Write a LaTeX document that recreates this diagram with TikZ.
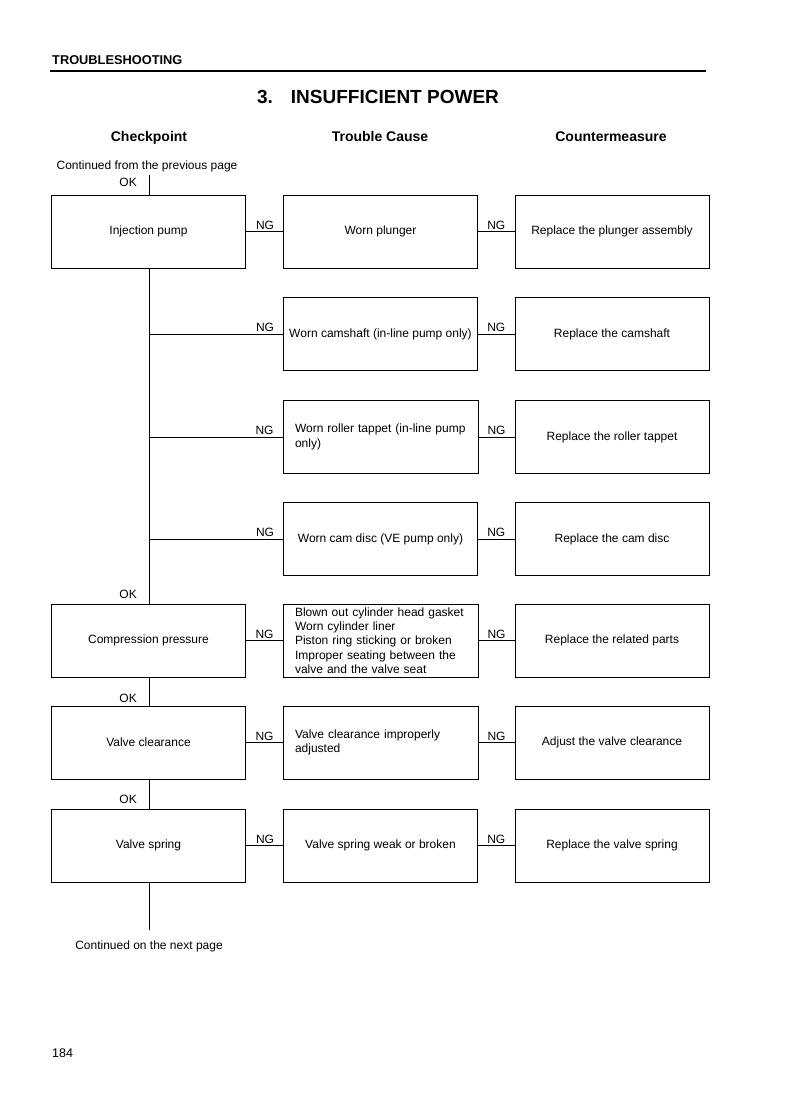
\documentclass[tikz,border=0pt]{standalone}
\usepackage{fontspec}
\setmainfont{Liberation Sans}
\begin{document}
\begin{tikzpicture}[x=1pt,y=-1pt,
  txt/.style={font=\fontsize{12}{14.3}\selectfont},
  box/.style={draw, line width=0.9pt, minimum width=194pt, minimum height=73pt,
    inner sep=0pt, align=center, txt},
  lbox/.style={box, align=left, text width=171pt, inner xsep=12pt},
  ngl/.style={anchor=south, inner sep=1.5pt, txt},
  okl/.style={anchor=east, inner sep=0pt, txt},
  conn/.style={line width=0.9pt},
  head/.style={anchor=base, inner sep=0pt, font=\bfseries\fontsize{14}{16}\selectfont}]
\useasboundingbox (0,0) rectangle (794,1107);

% header
\node[anchor=base west, inner sep=0pt, font=\bfseries\fontsize{12.8}{14}\selectfont] (hdr) at (52,65) {TROUBLESHOOTING};
\draw[line width=2pt] (50,71) -- (706,71);
\node[anchor=base, inner sep=0pt, font=\bfseries\fontsize{19}{22}\selectfont] (title) at (378,104) {3.\hspace{18pt}INSUFFICIENT POWER};
\node[head] (h1) at (149,142) {Checkpoint};
\node[head] (h2) at (380,142) {Trouble Cause};
\node[head] (h3) at (611,142) {Countermeasure};

\node[txt, inner sep=0pt] (cont1) at (147,166) {Continued from the previous page};
\coordinate (top) at (149,175);

% column 1
\node[box] (c1) at (148.5,231.5) {Injection pump};
\node[box] (c5) at (148.5,640.5) {Compression pressure};
\node[box] (c6) at (148.5,742.5) {Valve clearance};
\node[box] (c7) at (148.5,845.5) {Valve spring};

% column 2
\node[box] (t1) at (380.5,231.5) {Worn plunger};
\node[box] (t2) at (380.5,334) {Worn camshaft (in-line pump only)};
\node[lbox] (t3) at (380.5,437) {Worn roller tappet (in-line pump\\only)};
\node[box] (t4) at (380.5,539) {Worn cam disc (VE pump only)};
\node[lbox] (t5) at (380.5,640.5) {Blown out cylinder head gasket\\Worn cylinder liner\\Piston ring sticking or broken\\Improper seating between the\\valve and the valve seat};
\node[lbox] (t6) at (380.5,742.5) {Valve clearance improperly\\adjusted};
\node[box] (t7) at (380.5,845.5) {Valve spring weak or broken};

% column 3
\node[box] (m1) at (612,231.5) {Replace the plunger assembly};
\node[box] (m2) at (612,334) {Replace the camshaft};
\node[box] (m3) at (612,437) {Replace the roller tappet};
\node[box] (m4) at (612,539) {Replace the cam disc};
\node[box] (m5) at (612,640.5) {Replace the related parts};
\node[box] (m6) at (612,742.5) {Adjust the valve clearance};
\node[box] (m7) at (612,845.5) {Replace the valve spring};

% trunk
\coordinate (b2) at (149,334);
\coordinate (b3) at (149,437);
\coordinate (b4) at (149,539);
\coordinate (bot) at (149,930);
\draw[conn] (top) -- (top |- c1.north);
\draw[conn] (c1.south -| top) -- (c5.north -| top);
\draw[conn] (c5.south -| top) -- (c6.north -| top);
\draw[conn] (c6.south -| top) -- (c7.north -| top);
\draw[conn] (c7.south -| top) -- (bot);

\node[okl] (ok1) at (137,182) {OK};
\node[okl] (ok5) at (137,594) {OK};
\node[okl] (ok6) at (137,698) {OK};
\node[okl] (ok7) at (137,799) {OK};

\node[txt, inner sep=0pt] (cont2) at (149,946) {Continued on the next page};

% NG connectors
\foreach \a/\b in {c1/t1, b2/t2, b3/t3, b4/t4, c5/t5, c6/t6, c7/t7}{
  \draw[conn] (\a) -- (\b.west) node[ngl, pos=1, xshift=-18pt] {NG};
}
\foreach \a/\b in {t1/m1, t2/m2, t3/m3, t4/m4, t5/m5, t6/m6, t7/m7}{
  \draw[conn] (\a.east) -- (\b.west) node[ngl, pos=0.5] {NG};
}

\node[anchor=base west, inner sep=0pt, font=\fontsize{12.5}{14}\selectfont] (pg) at (52,1057) {184};
\end{tikzpicture}
\end{document}
